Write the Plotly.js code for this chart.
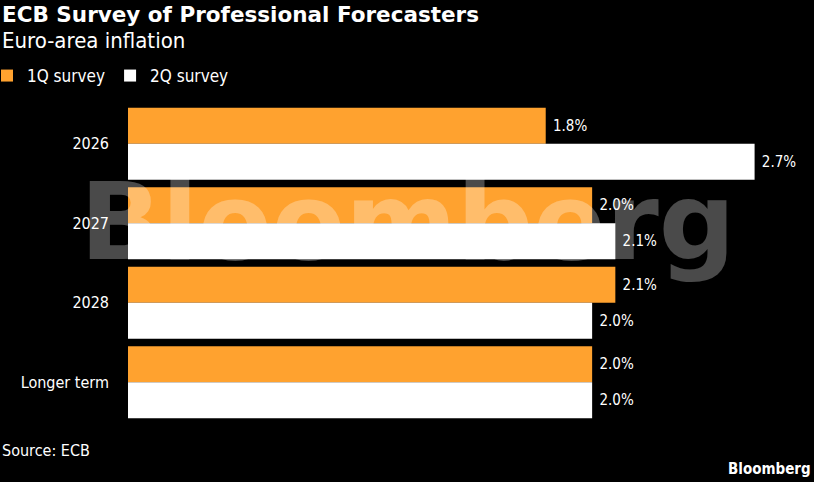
<!DOCTYPE html>
<html><head><meta charset="utf-8">
<script src="https://cdn.plot.ly/plotly-3.0.1.min.js"></script>
<style>html,body{margin:0;padding:0;background:#000;}#chart{width:814px;height:482px;}</style>
</head><body><div id="chart"></div>
<script>
const categories = ['2026', '2027', '2028', 'Longer term'];
const survey1Q = [1.8, 2.0, 2.1, 2.0];
const survey2Q = [2.7, 2.1, 2.0, 2.0];
const seriesNames = ['1Q survey', '2Q survey'];

const labelFont = {family: 'DejaVu Sans Condensed', size: 15, color: '#ffffff'};

const traces = [
  {type: 'bar', orientation: 'h', name: seriesNames[0], y: categories, x: survey1Q,
   marker: {color: '#ffa22f'}, text: survey1Q.map(v => ' ' + v.toFixed(1) + '%'),
   textposition: 'outside', textfont: labelFont, cliponaxis: false, hoverinfo: 'none'},
  {type: 'bar', orientation: 'h', name: seriesNames[1], y: categories, x: survey2Q,
   marker: {color: '#ffffff'}, text: survey2Q.map(v => ' ' + v.toFixed(1) + '%'),
   textposition: 'outside', textfont: labelFont, cliponaxis: false, hoverinfo: 'none'}
];

const layout = {
  width: 814, height: 482,
  paper_bgcolor: '#000000', plot_bgcolor: '#000000',
  margin: {l: 128, r: 13, t: 104, b: 60, autoexpand: false},
  barmode: 'group', bargap: 0.094, bargroupgap: 0,
  showlegend: true,
  legend: {orientation: 'h', x: (-128 - 13) / 673, xref: 'paper', y: 1 + (104 - 76) / 318, yref: 'paper',
           xanchor: 'left', yanchor: 'middle',
           font: {family: 'DejaVu Sans Condensed', size: 17, color: '#ffffff'},
           itemwidth: 30, tracegroupgap: 0, bgcolor: 'rgba(0,0,0,0)'},
  xaxis: {range: [0, 2.9], visible: false, fixedrange: true},
  yaxis: {type: 'category', autorange: 'reversed', showgrid: false, zeroline: false, showline: false,
          ticks: '', ticklabelstandoff: 18,
          tickfont: {family: 'DejaVu Sans Condensed', size: 16, color: '#ffffff'}},
  annotations: [
    {text: '<b>ECB Survey of Professional Forecasters</b>', xref: 'paper', yref: 'paper',
     x: -128/673, y: 1 + (104 - 15) / 318, xanchor: 'left', yanchor: 'middle', showarrow: false,
     font: {family: 'DejaVu Sans', size: 21.5, color: '#ffffff'}},
    {text: 'Euro-area inflation', xref: 'paper', yref: 'paper',
     x: -128/673, y: 1 + (104 - 41) / 318, xanchor: 'left', yanchor: 'middle', showarrow: false,
     font: {family: 'DejaVu Sans Condensed', size: 22, color: '#ffffff'}},
    {text: 'Source: ECB', xref: 'paper', yref: 'paper',
     x: -128/673, y: -(450 - 422) / 318, xanchor: 'left', yanchor: 'middle', showarrow: false,
     font: {family: 'DejaVu Sans Condensed', size: 16, color: '#ffffff'}},
    {text: '<b>Bloomberg</b>', xref: 'paper', yref: 'paper',
     x: 1 + 12/673, y: -(469 - 422) / 318, xanchor: 'right', yanchor: 'middle', showarrow: false,
     font: {family: 'DejaVu Sans Condensed', size: 15, color: '#ffffff'}},
    {text: '<b>Bloomberg</b>', xref: 'paper', yref: 'paper',
     x: (407 - 128) / 673, y: 1 - (222 - 104) / 318, xanchor: 'center', yanchor: 'middle', showarrow: false,
     font: {family: 'DejaVu Sans', size: 107, color: 'rgba(255,255,255,0.29)'}}
  ]
};

Plotly.newPlot('chart', traces, layout, {displayModeBar: false, staticPlot: true});
</script></body></html>
